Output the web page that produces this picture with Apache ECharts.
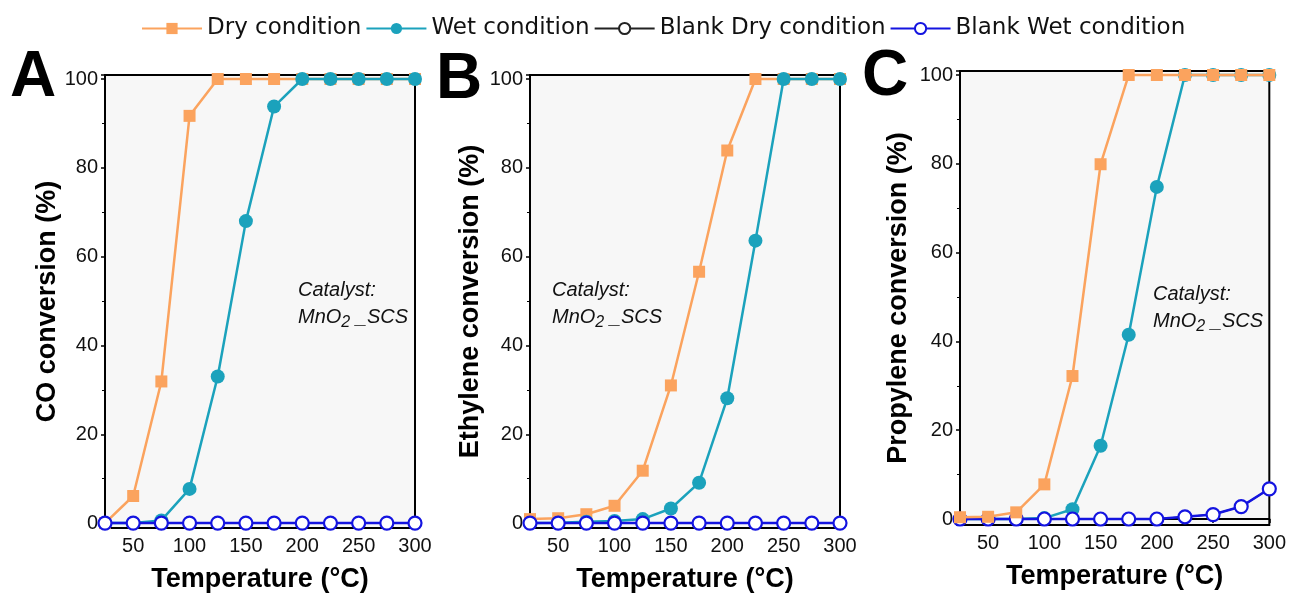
<!DOCTYPE html>
<html>
<head>
<meta charset="utf-8">
<script src="https://cdn.jsdelivr.net/npm/echarts@6/dist/echarts.min.js"></script>
<style>
html,body{margin:0;padding:0;background:#fff;}
#chart{width:1289px;height:598px;}
</style>
</head>
<body>
<div id="chart"></div>
<script>
// ---- data ----
const temps = [25, 50, 75, 100, 125, 150, 175, 200, 225, 250, 275, 300];
const xTickLabels = ['50', '100', '150', '200', '250', '300'];
const yTickLabels = ['0', '20', '40', '60', '80', '100'];
const seriesNames = ['Dry condition', 'Wet condition', 'Blank Dry condition', 'Blank Wet condition'];
const panelLetters = ['A', 'B', 'C'];
const yTitles = ['CO conversion (%)', 'Ethylene conversion (%)', 'Propylene conversion (%)'];
const xTitle = 'Temperature (°C)';

const coDry = [0, 6.1, 31.9, 91.7, 100, 100, 100, 100, 100, 100, 100, 100];
const coWet = [0, 0, 0.6, 7.7, 33, 68, 93.8, 100, 100, 100, 100, 100];
const coBlankDry = [0, 0, 0, 0, 0, 0, 0, 0, 0, 0, 0, 0];
const coBlankWet = [0, 0, 0, 0, 0, 0, 0, 0, 0, 0, 0, 0];

const ethDry = [0.9, 1.1, 2.0, 3.9, 11.8, 31, 56.6, 83.9, 100, 100, 100, 100];
const ethWet = [0, 0.1, 0.3, 0.5, 0.9, 3.3, 9.1, 28.1, 63.6, 100, 100, 100];
const ethBlankDry = [0, 0, 0, 0, 0, 0, 0, 0, 0, 0, 0, 0];
const ethBlankWet = [0, 0, 0, 0, 0, 0, 0, 0, 0, 0, 0, 0];

const propDry = [0.4, 0.5, 1.5, 7.8, 32.2, 79.9, 100, 100, 100, 100, 100, 100];
const propWet = [0, 0, 0, 0.2, 2.2, 16.5, 41.5, 74.8, 100, 100, 100, 100];
const propBlankDry = [0, 0, 0, 0, 0, 0, 0, 0, 0.5, 1.0, 2.8, 6.8];
const propBlankWet = [0, 0, 0, 0, 0, 0, 0, 0, 0.5, 1.0, 2.8, 6.8];

const panelData = [
  [coDry, coWet, coBlankDry, coBlankWet],
  [ethDry, ethWet, ethBlankDry, ethBlankWet],
  [propDry, propWet, propBlankDry, propBlankWet]
];

// ---- layout / style ----
const grids = [
  {left: 105, top: 75, width: 310, height: 454, yMin: -1.1, yMax: 100.9},
  {left: 530, top: 75, width: 310, height: 454, yMin: -1.1, yMax: 100.9},
  {left: 960, top: 71, width: 310, height: 454, yMin: -1.35, yMax: 100.9}
];
const yNameGaps = [44, 46, 48];
const letterPos = [[10, 46], [436, 48], [862, 45]];
const catalystPos = [[298, 277], [552, 277], [1153, 281]];
// draw order (z) per panel for series: dry, wet, blank dry, blank wet
const zOrder = [[2, 3, 4, 5], [2, 3, 4, 5], [6, 3, 4, 5]];

const styles = [
  {color: '#FBA35E', symbol: 'rect', size: 12, fill: '#FBA35E', lw: 2.5, bw: 0},
  {color: '#1BA2BC', symbol: 'circle', size: 14, fill: '#1BA2BC', lw: 2.5, bw: 0},
  {color: '#222222', symbol: 'circle', size: 11, fill: '#ffffff', lw: 1.5, bw: 1.5},
  {color: '#1414E0', symbol: 'circle', size: 13, fill: '#ffffff', lw: 2.5, bw: 2.2}
];

const font = '"Liberation Sans", Arial, sans-serif';
const legendFont = '"DejaVu Sans", sans-serif';

const option = {
  backgroundColor: '#ffffff',
  animation: false,
  legend: {
    data: seriesNames,
    top: 12,
    left: 136,
    itemWidth: 60,
    itemHeight: 14,
    itemGap: 4,
    textStyle: {fontFamily: legendFont, fontSize: 23, color: '#111'}
  },
  grid: [],
  xAxis: [],
  yAxis: [],
  series: [],
  graphic: []
};

grids.forEach((g, i) => {
  option.grid.push({
    left: g.left, top: g.top, width: g.width, height: g.height,
    show: true, backgroundColor: '#f7f7f7', borderColor: '#000', borderWidth: 2,
    containLabel: false
  });
  option.xAxis.push({
    type: 'value', gridIndex: i, min: 25, max: 300, splitNumber: 5,
    name: xTitle, nameLocation: 'middle', nameGap: 38,
    nameTextStyle: {fontFamily: font, fontSize: 27, fontWeight: 'bold', color: '#000'},
    axisLine: {show: true, lineStyle: {color: '#000', width: 2}},
    axisTick: {show: true, inside: false, length: 4, lineStyle: {color: '#000', width: 1.5}},
    minorTick: {show: false},
    splitLine: {show: false},
    axisLabel: {
      fontFamily: font, fontSize: 20, color: '#111', margin: 8,
      showMinLabel: false,
      formatter: v => (xTickLabels.indexOf(String(v)) >= 0 ? String(v) : '')
    }
  });
  option.yAxis.push({
    type: 'value', gridIndex: i, min: g.yMin, max: g.yMax, splitNumber: 5,
    name: yTitles[i], nameLocation: 'middle', nameGap: yNameGaps[i],
    nameTextStyle: {fontFamily: font, fontSize: 27, fontWeight: 'bold', color: '#000'},
    axisLine: {show: true, lineStyle: {color: '#000', width: 2}},
    axisTick: {show: true, inside: false, length: 4, lineStyle: {color: '#000', width: 1.5}},
    minorTick: {show: true, splitNumber: 2, length: 3, lineStyle: {color: '#000', width: 1}},
    splitLine: {show: false},
    axisLabel: {
      fontFamily: font, fontSize: 20, color: '#111', margin: 7,
      showMinLabel: false, showMaxLabel: true,
      formatter: v => (yTickLabels.indexOf(String(v)) >= 0 ? String(v) : '')
    }
  });
  panelData[i].forEach((vals, k) => {
    const s = styles[k];
    option.series.push({
      name: seriesNames[k],
      type: 'line',
      xAxisIndex: i, yAxisIndex: i,
      data: temps.map((t, j) => [t, vals[j]]),
      symbol: s.symbol, symbolSize: s.size, showAllSymbol: true,
      clip: false,
      z: zOrder[i][k],
      lineStyle: {color: s.color, width: s.lw},
      itemStyle: {color: s.fill, borderColor: s.color, borderWidth: s.bw}
    });
  });
  option.graphic.push({
    type: 'text', left: letterPos[i][0], top: letterPos[i][1],
    style: {text: panelLetters[i], font: 'bold 64px ' + font, fill: '#000'}
  });
  option.graphic.push({
    type: 'text', left: catalystPos[i][0], top: catalystPos[i][1],
    style: {
      text: 'Catalyst:\nMnO{sub|2} _SCS',
      font: 'italic 20px ' + font, fill: '#111', lineHeight: 27,
      rich: {sub: {font: 'italic 16px ' + font, fill: '#111', verticalAlign: 'bottom', padding: [8, 0, 0, 0]}}
    }
  });
});

const chart = echarts.init(document.getElementById('chart'), null, {renderer: 'canvas'});
chart.setOption(option);
</script>
</body>
</html>
